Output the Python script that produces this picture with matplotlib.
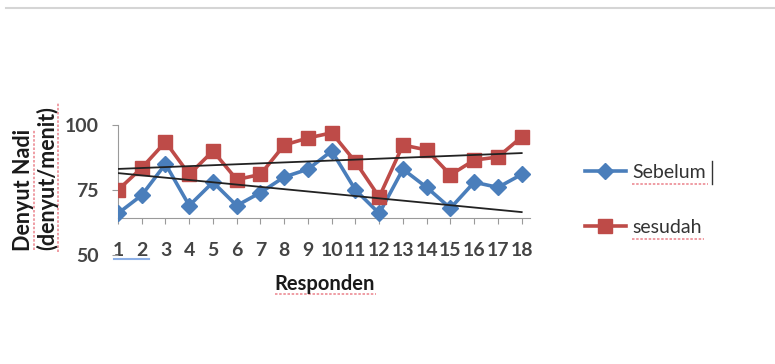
import matplotlib
matplotlib.use("Agg")
import matplotlib.pyplot as plt
from matplotlib.lines import Line2D

plt.rcParams['font.family'] = ['Lato', 'DejaVu Sans']

responden = list(range(1, 19))
tick_labels = [str(i) for i in responden]
sebelum = [66, 73, 85, 69, 78, 69, 74, 80, 83, 90, 75, 66, 83, 76, 68, 78, 76, 81]
sesudah = [75, 83.5, 93.5, 81, 90, 79, 81, 92.3, 95, 97, 85.8, 72.3, 92.3, 90.4, 80.8, 86.5, 87.7, 95.4]
# trendline end values (at responden 1 and 18)
trend_x = [1, 18]
trend_sebelum = [81.5, 66.5]
trend_sesudah = [83.1, 89.2]
yticks = [50, 75, 100]

W, H = 775, 364
fig = plt.figure(figsize=(W / 100, H / 100), dpi=100)
ax = fig.add_axes([118 / W, 1 - 255 / H, (530 - 118) / W, (255 - 125) / H])

blue = '#4A7EBB'
red = '#BE4B48'

ax.plot(responden, sebelum, color=blue, lw=2.6, marker='D', ms=8,
        label='Sebelum', zorder=3)
ax.plot(responden, sesudah, color=red, lw=2.6, marker='s', ms=10.5,
        label='sesudah', zorder=3)
ax.plot(trend_x, trend_sesudah, color='#222222', lw=1.3, zorder=4)
ax.plot(trend_x, trend_sebelum, color='#222222', lw=1.3, zorder=4)

ax.set_xlim(1, 18.35)
ax.set_ylim(50, 100)
ax.set_yticks(yticks)
ax.set_xticks(responden)
ax.set_xticklabels(tick_labels)

for s in ['top', 'right']:
    ax.spines[s].set_visible(False)
ax.spines['bottom'].set_position(('data', 64.2))
ax.spines['bottom'].set_color('#9a9a9a')
ax.spines['left'].set_color('#9a9a9a')
ax.spines['left'].set_bounds(64.2, 100)
ax.spines['left'].set_position(('data', 1))

ax.tick_params(axis='x', direction='out', length=4, color='#9a9a9a', pad=13,
               labelsize=14, labelcolor='#444444')
ax.tick_params(axis='y', direction='out', length=4, color='#9a9a9a', pad=10,
               labelsize=14, labelcolor='#444444')
for lab in ax.get_xticklabels():
    lab.set_fontweight('bold')
for lab in ax.get_yticklabels():
    lab.set_fontweight('bold')
ax.patch.set_alpha(0)

fig.text(325 / W, 1 - 284 / H, 'Responden', ha='center', va='center',
         fontsize=14.5, fontweight='bold', color='#1a1a1a')
fig.text(24 / W, 1 - 190 / H, 'Denyut Nadi', ha='center', va='center',
         rotation=90, fontsize=15.5, fontweight='bold', color='#1a1a1a')
fig.text(47 / W, 1 - 178 / H, '(denyut/menit)', ha='center', va='center',
         rotation=90, fontsize=15.5, fontweight='bold', color='#1a1a1a')

leg = fig.legend(loc='upper left', bbox_to_anchor=(585 / W, 1 - 164 / H),
                 frameon=False, fontsize=14, handlelength=2.1,
                 labelspacing=1.95, handletextpad=0.35, borderpad=0,
                 borderaxespad=0)
for t in leg.get_texts():
    t.set_color('#333333')

spell = dict(color='#e8707a', lw=1.2, ls=(0, (1.5, 1)), alpha=0.8,
             transform=fig.transFigure)
fig.add_artist(Line2D([275 / W, 376 / W], [1 - 294 / H] * 2, **spell))
fig.add_artist(Line2D([34 / W] * 2, [1 - 250 / H, 1 - 130 / H], **spell))
fig.add_artist(Line2D([58 / W] * 2, [1 - 252 / H, 1 - 102 / H], **spell))
fig.add_artist(Line2D([632 / W, 708 / W], [1 - 184 / H] * 2, **spell))
fig.add_artist(Line2D([632 / W, 704 / W], [1 - 239 / H] * 2, **spell))
fig.add_artist(Line2D([114 / W, 149 / W], [1 - 259 / H] * 2, color='#6f9be0',
                      lw=1.5, alpha=0.8, transform=fig.transFigure))
fig.add_artist(Line2D([712 / W] * 2, [1 - 184 / H, 1 - 161 / H], color='#333333',
                      lw=1, transform=fig.transFigure))

fig.add_artist(Line2D([6 / W, 1], [1 - 8 / H, 1 - 8 / H], color='#d5d5d5',
                      lw=1.5, transform=fig.transFigure))

fig.savefig('out.png', dpi=100)
